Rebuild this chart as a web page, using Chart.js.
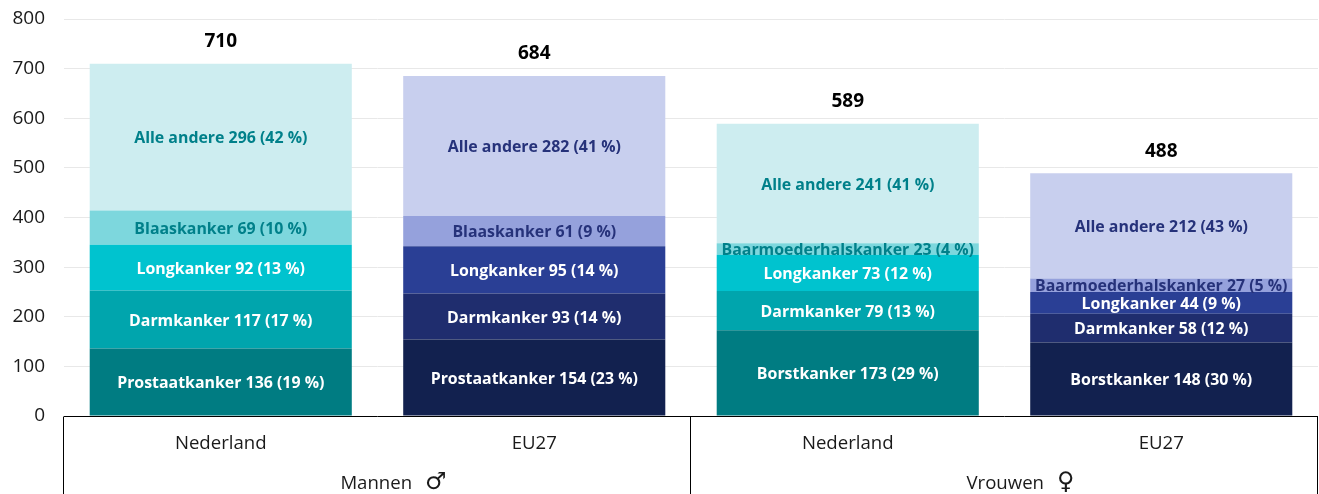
<!DOCTYPE html>
<html>
<head>
<meta charset="utf-8">
<style>html,body{margin:0;padding:0;background:#fff}#w{width:1319px;height:494px;position:relative}</style>
<script src="https://cdn.jsdelivr.net/npm/chart.js@4/dist/chart.umd.js"></script>
</head>
<body>
<div id="w"><canvas id="c" width="1319" height="494"></canvas></div>
<script>
const categories = ['Nederland', 'EU27', 'Nederland', 'EU27'];
const groups = [['Mannen', '♂', 0, 1], ['Vrouwen', '♀', 2, 3]];
const totals = [710, 684, 589, 488];
const yTicks = [0, 100, 200, 300, 400, 500, 600, 700, 800];

const seg1 = [136, 154, 173, 148];
const seg2 = [117, 93, 79, 58];
const seg3 = [92, 95, 73, 44];
const seg4 = [69, 61, 23, 27];
const seg5 = [296, 282, 241, 212];

const names1 = ['Prostaatkanker', 'Prostaatkanker', 'Borstkanker', 'Borstkanker'];
const names2 = ['Darmkanker', 'Darmkanker', 'Darmkanker', 'Darmkanker'];
const names3 = ['Longkanker', 'Longkanker', 'Longkanker', 'Longkanker'];
const names4 = ['Blaaskanker', 'Blaaskanker', 'Baarmoederhalskanker', 'Baarmoederhalskanker'];
const names5 = ['Alle andere', 'Alle andere', 'Alle andere', 'Alle andere'];

const pct1 = [19, 23, 29, 30];
const pct2 = [17, 14, 13, 12];
const pct3 = [13, 14, 12, 9];
const pct4 = [10, 9, 4, 5];
const pct5 = [42, 41, 41, 43];

const teal = ['#007c82', '#00a5ad', '#00c3cf', '#7dd7dd', '#cdedf0'];
const navy = ['#12214f', '#1f2d6e', '#2a3f95', '#95a1dc', '#c8cfee'];
const tealText = '#00808a';
const navyText = '#26327a';
const FONT = '"Open Sans", "Noto Sans", sans-serif';

const segs = [seg1, seg2, seg3, seg4, seg5];
const names = [names1, names2, names3, names4, names5];
const pcts = [pct1, pct2, pct3, pct4, pct5];

const datasets = segs.map((d, s) => ({
  label: 'Segment ' + (s + 1),
  data: d,
  backgroundColor: [teal[s], navy[s], teal[s], navy[s]],
  borderWidth: 0,
  categoryPercentage: 1,
  barPercentage: 0.836
}));

const overlay = {
  id: 'overlay',
  afterDatasetsDraw(chart) {
    const { ctx, scales: { x, y } } = chart;
    ctx.save();
    ctx.textAlign = 'center';
    ctx.textBaseline = 'middle';
    segs.forEach((d, s) => {
      const meta = chart.getDatasetMeta(s);
      meta.data.forEach((el, i) => {
        const p = el.getProps(['x', 'y', 'base'], true);
        ctx.font = 'bold 15.9px ' + FONT;
        ctx.fillStyle = s < 3 ? '#ffffff' : (i % 2 ? navyText : tealText);
        ctx.fillText(names[s][i] + ' ' + d[i] + ' (' + pcts[s][i] + ' %)', p.x, (p.y + p.base) / 2 + 1.5);
      });
    });
    const top = chart.getDatasetMeta(4);
    ctx.fillStyle = '#000';
    ctx.font = 'bold 19px ' + FONT;
    top.data.forEach((el, i) => {
      ctx.fillText(totals[i], el.x, y.getPixelForValue(totals[i]) - 22.5);
    });

    const yb = Math.round(y.getPixelForValue(0)) + 0.5;
    const H = chart.height;
    const half = (x.getPixelForValue(1) - x.getPixelForValue(0)) / 2;
    const edges = [x.getPixelForValue(0) - half, x.getPixelForValue(1) + half, x.getPixelForValue(3) + half];
    ctx.strokeStyle = '#000';
    ctx.lineWidth = 1;
    ctx.beginPath();
    ctx.moveTo(edges[0], yb); ctx.lineTo(edges[2], yb);
    edges.forEach(e => {
      const ex = Math.round(e) - 0.5;
      ctx.moveTo(ex, yb); ctx.lineTo(ex, H);
    });
    ctx.stroke();

    groups.forEach(([name, sym, a, b]) => {
      const cx = (x.getPixelForValue(a) + x.getPixelForValue(b)) / 2;
      ctx.fillStyle = '#1a1a1a';
      ctx.font = '18.6px ' + FONT;
      const w = ctx.measureText(name).width;
      ctx.font = '24px "DejaVu Sans", sans-serif';
      const sw = ctx.measureText(sym).width;
      const gap = 13;
      const left = cx + 16 - (w + gap + sw) / 2;
      ctx.textAlign = 'left';
      ctx.font = '18.6px ' + FONT;
      ctx.fillText(name, left, 484);
      ctx.font = '24px "DejaVu Sans", sans-serif';
      ctx.fillText(sym, left + w + gap, 483);
      ctx.textAlign = 'center';
    });
    ctx.restore();
  }
};

new Chart(document.getElementById('c'), {
  type: 'bar',
  data: { labels: categories, datasets },
  plugins: [overlay],
  options: {
    responsive: false,
    animation: false,
    layout: { padding: { top: 19, right: 1, left: 0, bottom: 0 } },
    plugins: { legend: { display: false }, title: { display: false }, tooltip: { enabled: false } },
    scales: {
      x: {
        stacked: true,
        afterFit(s) { s.height = 78; s.paddingLeft = 0; s.paddingRight = 0; },
        grid: { display: false, drawTicks: false },
        border: { display: false },
        ticks: { color: '#1a1a1a', font: { family: FONT, size: 18.6 }, padding: 17, maxRotation: 0 }
      },
      y: {
        stacked: true,
        min: 0,
        max: 800,
        afterBuildTicks(s) { s.ticks = yTicks.map(v => ({ value: v })); },
        afterFit(s) { s.width = 64; s.paddingTop = 0; s.paddingBottom = 0; },
        grid: { color: '#e8e8e8', lineWidth: 1, drawTicks: false },
        border: { display: false },
        ticks: { color: '#1a1a1a', font: { family: FONT, size: 19 }, padding: 19 }
      }
    }
  }
});
</script>
</body>
</html>
